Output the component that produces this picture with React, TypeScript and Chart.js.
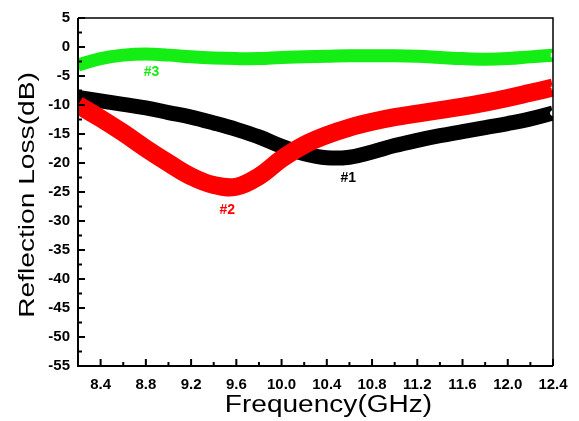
import React, { useEffect, useRef } from "react";
import { Chart, registerables } from "chart.js";

Chart.register(...registerables);

// Frequency sweep (GHz)
const FREQ = [8.2, 8.4, 8.6, 8.8, 9.0, 9.2, 9.4, 9.6, 9.8, 10.0, 10.2, 10.4, 10.6, 10.8, 11.0, 11.2, 11.4, 11.6, 11.8, 12.0, 12.2, 12.4];

// Reflection loss (dB) of the three samples
const RL_1 = [-8.7, -9.3, -9.9, -10.5, -11.3, -12.1, -13.1, -14.2, -15.5, -17.1, -18.4, -19.1, -19.0, -18.1, -17.0, -16.1, -15.3, -14.6, -13.9, -13.2, -12.4, -11.4];
const RL_2 = [-10.0, -12.3, -14.8, -17.5, -20.0, -22.3, -23.8, -24.1, -22.3, -19.3, -16.9, -15.2, -13.9, -12.9, -12.1, -11.5, -10.9, -10.3, -9.6, -8.8, -7.9, -7.0];
const RL_3 = [-3.1, -2.0, -1.4, -1.2, -1.4, -1.7, -1.9, -2.0, -2.0, -1.8, -1.7, -1.6, -1.5, -1.5, -1.5, -1.6, -1.8, -2.0, -2.1, -2.0, -1.7, -1.4];

// Axis ticks
const X_TICKS = [8.4, 8.8, 9.2, 9.6, 10.0, 10.4, 10.8, 11.2, 11.6, 12.0, 12.4];
const X_MINOR = [8.2, 8.6, 9.0, 9.4, 9.8, 10.2, 10.6, 11.0, 11.4, 11.8, 12.2];
const Y_TICKS = [5, 0, -5, -10, -15, -20, -25, -30, -35, -40, -45, -50, -55];
const Y_MINOR = [2.5, -2.5, -7.5, -12.5, -17.5, -22.5, -27.5, -32.5, -37.5, -42.5, -47.5, -52.5];

// Curve labels: [text, frequency, dB, colour]
const CURVE_LABELS: [string, number, number, string][] = [
  ["#3", 8.85, -4.3, "#14ee14"],
  ["#2", 9.52, -28.2, "#ff0000"],
  ["#1", 10.59, -22.6, "#000000"],
];

const X_TITLE = "Frequency(GHz)";
const Y_TITLE = "Reflection Loss(dB)";
const FONT = "Arial, 'Liberation Sans', Helvetica, sans-serif";

const toXY = (ys: number[]) => ys.map((y, i) => ({ x: FREQ[i], y }));
const endMarker = (r: number) => FREQ.map((_, i) => (i === FREQ.length - 1 ? r : 0));

// Frame, inward ticks, axis titles and curve labels
const framePlugin = {
  id: "frame",
  afterDatasetsDraw(chart: any) {
    const { ctx, chartArea: a, scales } = chart;
    const xs = scales.x;
    const ys = scales.y;
    ctx.save();
    ctx.strokeStyle = "#000";
    ctx.lineWidth = 1.5;
    ctx.beginPath();
    ctx.moveTo(a.left, a.top);
    ctx.lineTo(a.right, a.top);
    ctx.lineTo(a.right, a.bottom);
    ctx.stroke();
    ctx.lineWidth = 2;
    ctx.beginPath();
    ctx.moveTo(a.left, a.top);
    ctx.lineTo(a.left, a.bottom);
    ctx.lineTo(a.right, a.bottom);
    ctx.stroke();

    ctx.lineWidth = 2;
    ctx.beginPath();
    X_TICKS.forEach((v) => {
      const px = xs.getPixelForValue(v);
      ctx.moveTo(px, a.bottom);
      ctx.lineTo(px, a.bottom - 7);
    });
    X_MINOR.forEach((v) => {
      const px = xs.getPixelForValue(v);
      ctx.moveTo(px, a.bottom);
      ctx.lineTo(px, a.bottom - 4);
    });
    Y_TICKS.forEach((v) => {
      const py = ys.getPixelForValue(v);
      ctx.moveTo(a.left, py);
      ctx.lineTo(a.left + 7, py);
    });
    Y_MINOR.forEach((v) => {
      const py = ys.getPixelForValue(v);
      ctx.moveTo(a.left, py);
      ctx.lineTo(a.left + 4, py);
    });
    ctx.stroke();

    // axis titles
    ctx.fillStyle = "#000";
    ctx.textAlign = "center";
    ctx.textBaseline = "alphabetic";
    ctx.font = `23px ${FONT}`;
    ctx.save();
    ctx.translate((a.left + a.right) / 2 + 13, 412);
    ctx.scale(1.22, 1);
    ctx.fillText(X_TITLE, 0, 0);
    ctx.restore();

    ctx.font = `22px ${FONT}`;
    ctx.save();
    ctx.translate(34, (a.top + a.bottom) / 2 + 3);
    ctx.rotate(-Math.PI / 2);
    ctx.scale(1.28, 1);
    ctx.fillText(Y_TITLE, 0, 0);
    ctx.restore();

    // curve labels
    ctx.font = `bold 14px ${FONT}`;
    ctx.textBaseline = "middle";
    CURVE_LABELS.forEach(([t, fx, fy, c]) => {
      ctx.fillStyle = c;
      ctx.fillText(t, xs.getPixelForValue(fx), ys.getPixelForValue(fy));
    });
    ctx.restore();
  },
};

export default function App() {
  const canvasRef = useRef<HTMLCanvasElement | null>(null);

  useEffect(() => {
    if (!canvasRef.current) return;
    const line = (label: string, data: number[], color: string, width: number, style: string) => ({
      label,
      data: toXY(data),
      borderColor: color,
      backgroundColor: color,
      borderWidth: width,
      borderCapStyle: "butt",
      borderJoinStyle: "round",
      tension: 0.4,
      fill: false,
      pointStyle: style,
      pointRadius: endMarker(2.5),
      pointHoverRadius: 0,
      pointBackgroundColor: "#ffffff",
      pointBorderColor: "#ffffff",
      pointBorderWidth: 1,
    });

    const chart = new Chart(canvasRef.current, {
      type: "line",
      data: {
        datasets: [
          line("#2", RL_2, "#ff0000", 18, "star"),
          line("#1", RL_1, "#000000", 15, "circle"),
          line("#3", RL_3, "#14ee14", 13, "rect"),
        ] as any,
      },
      options: {
        responsive: false,
        animation: false,
        layout: { padding: { left: 0, top: 18, right: 26, bottom: 0 } },
        plugins: { legend: { display: false }, tooltip: { enabled: false } },
        scales: {
          x: {
            type: "linear",
            min: 8.2,
            max: 12.4,
            afterBuildTicks: (scale: any) => {
              scale.ticks = X_TICKS.map((v) => ({ value: v }));
            },
            afterFit: (scale: any) => {
              scale.height = 55;
            },
            grid: { display: false, drawTicks: false, tickLength: 0 },
            border: { display: false },
            ticks: {
              autoSkip: false,
              maxRotation: 0,
              padding: 10,
              color: "#000",
              font: { family: FONT, size: 15, weight: "bold" },
              callback: (v: any) => Number(v).toFixed(1),
            },
          },
          y: {
            type: "linear",
            min: -55,
            max: 5,
            afterBuildTicks: (scale: any) => {
              scale.ticks = Y_TICKS.map((v) => ({ value: v }));
            },
            afterFit: (scale: any) => {
              scale.width = 78;
            },
            grid: { display: false, drawTicks: false, tickLength: 0 },
            border: { display: false },
            ticks: {
              autoSkip: false,
              padding: 8,
              color: "#000",
              font: { family: FONT, size: 15, weight: "bold" },
              callback: (v: any) => String(v),
            },
          },
        },
      } as any,
      plugins: [framePlugin],
    });
    return () => chart.destroy();
  }, []);

  return (
    <div style={{ position: "fixed", left: 0, top: 0, width: 579, height: 421, background: "#fff" }}>
      <canvas ref={canvasRef} width={579} height={421} />
    </div>
  );
}
